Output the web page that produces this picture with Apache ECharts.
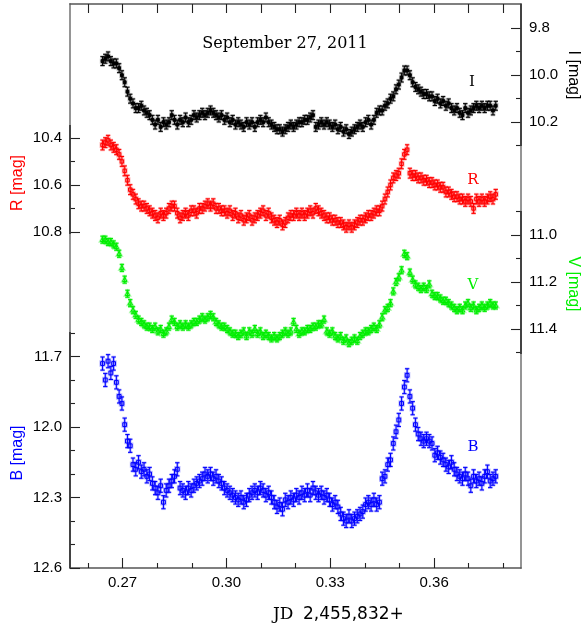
<!DOCTYPE html>
<html>
<head>
<meta charset="utf-8">
<script src="https://cdn.jsdelivr.net/npm/echarts@6/dist/echarts.min.js"></script>
<style>
html, body { margin: 0; padding: 0; background: #fff; }
#container { width: 583px; height: 630px; }
</style>
</head>
<body>
<div id="container"></div>
<script>
// JD - 2,455,832
var jd = [
    0.2642, 0.2650, 0.2658, 0.2666, 0.2674, 0.2682, 0.2690, 0.2698, 0.2706, 0.2714,
    0.2722, 0.2730, 0.2738, 0.2746, 0.2754, 0.2762, 0.2770, 0.2778, 0.2786, 0.2794,
    0.2802, 0.2810, 0.2818, 0.2826, 0.2834, 0.2842, 0.2850, 0.2858, 0.2866, 0.2874,
    0.2882, 0.2890, 0.2898, 0.2906, 0.2914, 0.2922, 0.2930, 0.2938, 0.2946, 0.2954,
    0.2962, 0.2970, 0.2978, 0.2986, 0.2994, 0.3002, 0.3010, 0.3018, 0.3026, 0.3034,
    0.3042, 0.3050, 0.3058, 0.3066, 0.3074, 0.3082, 0.3090, 0.3098, 0.3106, 0.3114,
    0.3122, 0.3130, 0.3138, 0.3146, 0.3154, 0.3162, 0.3170, 0.3178, 0.3186, 0.3194,
    0.3202, 0.3210, 0.3218, 0.3226, 0.3234, 0.3242, 0.3250, 0.3258, 0.3266, 0.3274,
    0.3282, 0.3290, 0.3298, 0.3306, 0.3314, 0.3322, 0.3330, 0.3338, 0.3346, 0.3354,
    0.3362, 0.3370, 0.3378, 0.3386, 0.3394, 0.3402, 0.3410, 0.3418, 0.3426, 0.3434,
    0.3442, 0.3450, 0.3458, 0.3466, 0.3474, 0.3482, 0.3490, 0.3498, 0.3506, 0.3514,
    0.3522, 0.3530, 0.3538, 0.3546, 0.3554, 0.3562, 0.3570, 0.3578, 0.3586, 0.3594,
    0.3602, 0.3610, 0.3618, 0.3626, 0.3634, 0.3642, 0.3650, 0.3658, 0.3666, 0.3674,
    0.3682, 0.3690, 0.3698, 0.3706, 0.3714, 0.3722, 0.3730, 0.3738, 0.3746, 0.3754,
    0.3762, 0.3770, 0.3778
];

var magI = [
    9.94, 9.93, 9.92, 9.94, 9.95, 9.95, 9.97, 10.00, 10.03, 10.07,
    10.10, 10.12, 10.14, 10.14, 10.13, 10.15, 10.16, 10.17, 10.19, 10.21,
    10.19, 10.22, 10.20, 10.21, 10.20, 10.17, 10.19, 10.21, 10.19, 10.20,
    10.18, 10.20, 10.19, 10.17, 10.18, 10.17, 10.16, 10.17, 10.16, 10.15,
    10.16, 10.17, 10.18, 10.17, 10.19, 10.18, 10.20, 10.19, 10.21, 10.20,
    10.21, 10.22, 10.20, 10.21, 10.20, 10.22, 10.20, 10.19, 10.20, 10.18,
    10.20, 10.21, 10.22, 10.23, 10.23, 10.24, 10.23, 10.22, 10.21, 10.22,
    10.21, 10.20, 10.20, 10.19, 10.19, 10.18, 10.17, 10.22, 10.21, 10.20,
    10.21, 10.20, 10.21, 10.22, 10.21, 10.23, 10.22, 10.24, 10.23, 10.25,
    10.24, 10.23, 10.22, 10.21, 10.22, 10.20, 10.19, 10.21, 10.19, 10.16,
    10.15, 10.15, 10.13, 10.12, 10.10, 10.09, 10.06, 10.04, 10.01, 9.98,
    9.98, 10.00, 10.03, 10.05, 10.06, 10.07, 10.08, 10.08, 10.09, 10.09,
    10.11, 10.10, 10.12, 10.11, 10.13, 10.12, 10.14, 10.15, 10.14, 10.16,
    10.17, 10.14, 10.16, 10.15, 10.14, 10.13, 10.14, 10.13, 10.14, 10.13,
    10.13, 10.15, 10.13
];

var magR = [
    10.43, 10.42, 10.41, 10.43, 10.44, 10.45, 10.47, 10.50, 10.54, 10.58,
    10.62, 10.64, 10.66, 10.68, 10.69, 10.69, 10.70, 10.71, 10.72, 10.73,
    10.74, 10.72, 10.73, 10.72, 10.70, 10.69, 10.69, 10.72, 10.74, 10.73,
    10.72, 10.73, 10.71, 10.71, 10.72, 10.70, 10.70, 10.69, 10.68, 10.69,
    10.68, 10.70, 10.70, 10.71, 10.71, 10.72, 10.71, 10.73, 10.72, 10.74,
    10.73, 10.75, 10.74, 10.73, 10.75, 10.74, 10.73, 10.72, 10.71, 10.73,
    10.72, 10.74, 10.75, 10.76, 10.75, 10.77, 10.76, 10.74, 10.73, 10.73,
    10.72, 10.73, 10.72, 10.73, 10.72, 10.71, 10.72, 10.70, 10.71, 10.72,
    10.73, 10.74, 10.74, 10.75, 10.75, 10.76, 10.76, 10.77, 10.78, 10.77,
    10.78, 10.77, 10.76, 10.75, 10.75, 10.74, 10.73, 10.73, 10.72, 10.71,
    10.71, 10.69, 10.66, 10.63, 10.60, 10.57, 10.56, 10.55, 10.51, 10.47,
    10.45, 10.55, 10.56, 10.56, 10.57, 10.57, 10.58, 10.58, 10.59, 10.59,
    10.60, 10.60, 10.61, 10.61, 10.63, 10.63, 10.64, 10.65, 10.65, 10.66,
    10.66, 10.67, 10.66, 10.67, 10.70, 10.66, 10.67, 10.66, 10.67, 10.66,
    10.65, 10.66, 10.64
];

var magV = [
    11.02, 11.02, 11.03, 11.03, 11.04, 11.05, 11.08, 11.14, 11.19, 11.25,
    11.29, 11.32, 11.34, 11.36, 11.37, 11.38, 11.39, 11.39, 11.40, 11.39,
    11.41, 11.40, 11.42, 11.41, 11.39, 11.36, 11.37, 11.39, 11.38, 11.39,
    11.38, 11.39, 11.38, 11.37, 11.37, 11.36, 11.35, 11.36, 11.35, 11.34,
    11.35, 11.37, 11.38, 11.39, 11.39, 11.40, 11.41, 11.42, 11.42, 11.43,
    11.42, 11.41, 11.43, 11.41, 11.42, 11.40, 11.42, 11.41, 11.43, 11.42,
    11.43, 11.44, 11.43, 11.44, 11.43, 11.42, 11.41, 11.42, 11.41, 11.37,
    11.40, 11.42, 11.41, 11.41, 11.40, 11.40, 11.39, 11.39, 11.38, 11.38,
    11.36, 11.41, 11.42, 11.41, 11.43, 11.44, 11.43, 11.45, 11.44, 11.46,
    11.45, 11.44, 11.45, 11.43, 11.42, 11.41, 11.41, 11.40, 11.39, 11.40,
    11.38, 11.35, 11.32, 11.31, 11.29, 11.24, 11.20, 11.18, 11.15, 11.08,
    11.09, 11.16, 11.19, 11.21, 11.22, 11.23, 11.22, 11.23, 11.21, 11.25,
    11.26, 11.26, 11.27, 11.28, 11.28, 11.29, 11.30, 11.31, 11.32, 11.31,
    11.32, 11.30, 11.29, 11.31, 11.30, 11.32, 11.31, 11.30, 11.31, 11.30,
    11.29, 11.30, 11.30
];

var magB = [
    11.73, 11.80, 11.72, 11.77, 11.73, 11.81, 11.87, 11.90, 11.99, 12.06,
    12.08, 12.16, 12.18, 12.15, 12.19, 12.18, 12.21, 12.20, 12.24, 12.26,
    12.28, 12.25, 12.32, 12.27, 12.25, 12.23, 12.21, 12.18, 12.26, 12.27,
    12.28, 12.26, 12.27, 12.25, 12.24, 12.23, 12.22, 12.20, 12.21, 12.20,
    12.22, 12.21, 12.23, 12.24, 12.26, 12.27, 12.28, 12.29, 12.30, 12.31,
    12.30, 12.32, 12.31, 12.29, 12.28, 12.27, 12.28, 12.26, 12.27, 12.29,
    12.28, 12.30, 12.32, 12.34, 12.33, 12.35, 12.31, 12.32, 12.30, 12.31,
    12.29, 12.30, 12.28, 12.29, 12.27, 12.29, 12.26, 12.28, 12.29, 12.28,
    12.30, 12.29, 12.31, 12.33, 12.32, 12.34, 12.37, 12.39, 12.40, 12.38,
    12.40, 12.39, 12.38, 12.37, 12.36, 12.33, 12.32, 12.33, 12.31, 12.33,
    12.32, 12.22, 12.21, 12.16, 12.14, 12.07, 12.02, 11.97, 11.90, 11.83,
    11.78, 11.87, 11.92, 11.99, 12.03, 12.05, 12.06, 12.05, 12.06, 12.07,
    12.12, 12.11, 12.13, 12.14, 12.16, 12.17, 12.15, 12.18, 12.20, 12.21,
    12.22, 12.20, 12.22, 12.25, 12.21, 12.23, 12.22, 12.24, 12.21, 12.19,
    12.23, 12.22, 12.21
];

// typical error bar half-lengths (mag)
var errI = 0.019, errR = 0.021, errV = 0.015, errB = 0.028;

// tick labels
var xMajor = [0.27, 0.30, 0.33, 0.36];
var xMinor = [0.26, 0.28, 0.29, 0.31, 0.32, 0.34, 0.35, 0.37, 0.38];
var xTop = [0.26, 0.27, 0.28, 0.29, 0.30, 0.31, 0.32, 0.33, 0.34, 0.35, 0.36, 0.37, 0.38];
var rMajor = [10.4, 10.6, 10.8], rMinor = [10.5, 10.7];
var bMajor = [11.7, 12.0, 12.3, 12.6], bMinor = [11.6, 11.8, 11.9, 12.1, 12.2, 12.4, 12.5];
var iMajor = [9.8, 10.0, 10.2], iMinor = [9.9, 10.1, 10.3];
var vMajor = [11.0, 11.2, 11.4], vMinor = [10.9, 11.1, 11.3, 11.5];

var FRAME = '#8a8a8a';
var labelFont = {fontSize: 15, color: '#000', fontFamily: '"Liberation Sans", Arial, sans-serif'};

function xAx(pos, ticks, len, labels, line) {
    return {
        type: 'value', position: pos, min: 0.2548, max: 0.3851,
        axisLine: {show: line, onZero: false, lineStyle: {color: '#555', width: 1.6}},
        axisTick: {show: true, inside: true, length: len, customValues: ticks,
            lineStyle: {color: '#222', width: 1.1}},
        axisLabel: Object.assign({show: !!labels, customValues: labels || ticks, margin: 7,
            formatter: function (v) { return v.toFixed(2); }}, labelFont),
        splitLine: {show: false}
    };
}

function yAx(pos, min, ticks, len, labels, line) {
    return {
        type: 'value', position: pos, min: min, max: min + 2.4, inverse: true, offset: 0,
        axisLine: {show: line, onZero: false, lineStyle: {color: FRAME, width: 1.8}},
        axisTick: {show: true, inside: true, length: len, customValues: ticks,
            lineStyle: {color: '#222', width: 1.1}},
        axisLabel: Object.assign({show: !!labels, customValues: labels || ticks, margin: 8,
            formatter: function (v) { return v.toFixed(1); }}, labelFont),
        splitLine: {show: false}
    };
}

function squareMark(s) {
    return function (c, style) {
        return {type: 'rect', shape: {x: c[0] - s / 2, y: c[1] - s / 2, width: s, height: s}, style: style};
    };
}
function dotMark(c, style) {
    return {type: 'rect', shape: {x: c[0] - 1.4, y: c[1] - 1.4, width: 2.8, height: 2.8},
        style: Object.assign({}, style, {fill: style.stroke})};
}
function triMark(c, style) {
    return {type: 'polygon', shape: {points: [[c[0], c[1] - 2.5], [c[0] - 2.3, c[1] + 1.8], [c[0] + 2.3, c[1] + 1.8]]},
        style: style};
}

function errorBars(err, color, halo, mark) {
    return function (params, api) {
        var x = api.value(0), y = api.value(1);
        var c = api.coord([x, y]);
        var hi = api.coord([x, y - err]);
        var lo = api.coord([x, y + err]);
        var kids = [];
        [{stroke: halo, lineWidth: 2.6, fill: null}, {stroke: color, lineWidth: 1, fill: null}].forEach(function (st) {
            kids.push(
                {type: 'line', shape: {x1: c[0], y1: hi[1], x2: c[0], y2: lo[1]}, style: st},
                {type: 'line', shape: {x1: c[0] - 2.2, y1: hi[1], x2: c[0] + 2.2, y2: hi[1]}, style: st},
                {type: 'line', shape: {x1: c[0] - 2.2, y1: lo[1], x2: c[0] + 2.2, y2: lo[1]}, style: st},
                mark(c, st)
            );
        });
        return {type: 'group', children: kids};
    };
}

function pairs(mags) {
    return jd.map(function (t, i) { return [t, mags[i]]; });
}

var dom = document.getElementById('container');
var myChart = echarts.init(dom, null, {renderer: 'canvas'});

var serif = '"DejaVu Serif", "Liberation Serif", serif';
var sans = '"Liberation Sans", Arial, sans-serif';

// darker segments of the side axes, where each band's scale sits
function seg(x, y1, y2) {
    return {type: 'line', silent: true, z: 10,
        shape: {x1: x, y1: y1, x2: x, y2: y2}, style: {stroke: '#3a3a3a', lineWidth: 1.8}};
}

option = {
    animation: false,
    backgroundColor: '#fff',
    grid: {left: 70, top: 4, width: 451, height: 564},
    xAxis: [
        xAx('bottom', xMajor, 10, xMajor, true),
        xAx('bottom', xMinor, 5, null, false),
        xAx('top', xTop, 9, null, true)
    ],
    yAxis: [
        yAx('left', 9.83, rMajor, 10, rMajor, true),      // 0 R
        yAx('left', 9.83, rMinor, 5, null, false),        // 1
        yAx('left', 10.2, bMajor, 10, bMajor, false),     // 2 B
        yAx('left', 10.2, bMinor, 5, null, false),        // 3
        yAx('right', 9.697, iMajor, 10, iMajor, true),    // 4 I
        yAx('right', 9.697, iMinor, 5, null, false),      // 5
        yAx('right', 10.017, vMajor, 10, vMajor, false),  // 6 V
        yAx('right', 10.017, vMinor, 5, null, false)      // 7
    ],
    series: [
        {type: 'custom', name: 'I', xAxisIndex: 0, yAxisIndex: 4, clip: true,
            renderItem: errorBars(errI, '#000000', 'rgba(0,0,0,0.25)', dotMark), data: pairs(magI)},
        {type: 'custom', name: 'R', xAxisIndex: 0, yAxisIndex: 0, clip: true,
            renderItem: errorBars(errR, '#ff0000', 'rgba(255,0,0,0.28)', squareMark(3.4)), data: pairs(magR)},
        {type: 'custom', name: 'V', xAxisIndex: 0, yAxisIndex: 6, clip: true,
            renderItem: errorBars(errV, '#00ee00', 'rgba(0,238,0,0.3)', triMark), data: pairs(magV)},
        {type: 'custom', name: 'B', xAxisIndex: 0, yAxisIndex: 2, clip: true,
            renderItem: errorBars(errB, '#0000ff', 'rgba(0,0,255,0.25)', squareMark(3.8)), data: pairs(magB)}
    ],
    graphic: [
        seg(70, 125, 234), seg(70, 332, 568), seg(521, 4, 146), seg(521, 211, 354),
        {type: 'text', x: 285, y: 44, style: {text: 'September 27, 2011', font: '16px ' + serif,
            fill: '#000', align: 'center', verticalAlign: 'middle'}},
        {type: 'text', x: 472, y: 82, style: {text: 'I', font: '15px ' + serif, fill: '#000', align: 'center', verticalAlign: 'middle'}},
        {type: 'text', x: 473, y: 180, style: {text: 'R', font: '15px ' + serif, fill: '#ff0000', align: 'center', verticalAlign: 'middle'}},
        {type: 'text', x: 473, y: 285, style: {text: 'V', font: '15px ' + serif, fill: '#00ee00', align: 'center', verticalAlign: 'middle'}},
        {type: 'text', x: 473, y: 447, style: {text: 'B', font: '15px ' + serif, fill: '#0000ff', align: 'center', verticalAlign: 'middle'}},
        {type: 'text', x: 18, y: 183, rotation: Math.PI / 2, style: {text: 'R [mag]', font: '16px ' + sans,
            fill: '#ff0000', align: 'center', verticalAlign: 'middle'}},
        {type: 'text', x: 18, y: 453, rotation: Math.PI / 2, style: {text: 'B [mag]', font: '16px ' + sans,
            fill: '#0000ff', align: 'center', verticalAlign: 'middle'}},
        {type: 'text', x: 573, y: 75, rotation: -Math.PI / 2, style: {text: 'I [mag]', font: '16px ' + sans,
            fill: '#000', align: 'center', verticalAlign: 'middle'}},
        {type: 'text', x: 573, y: 284, rotation: -Math.PI / 2, style: {text: 'V [mag]', font: '16px ' + sans,
            fill: '#00ee00', align: 'center', verticalAlign: 'middle'}},
        {type: 'text', x: 273, y: 615, style: {text: 'JD', font: '17px ' + serif, fill: '#000', align: 'left', verticalAlign: 'middle'}},
        {type: 'text', x: 303, y: 615, style: {text: '2,455,832+', font: '17px "DejaVu Sans", sans-serif', fill: '#000', align: 'left', verticalAlign: 'middle'}}
    ]
};

if (option && typeof option === "object") {
    myChart.setOption(option, true);
}
</script>
</body>
</html>
